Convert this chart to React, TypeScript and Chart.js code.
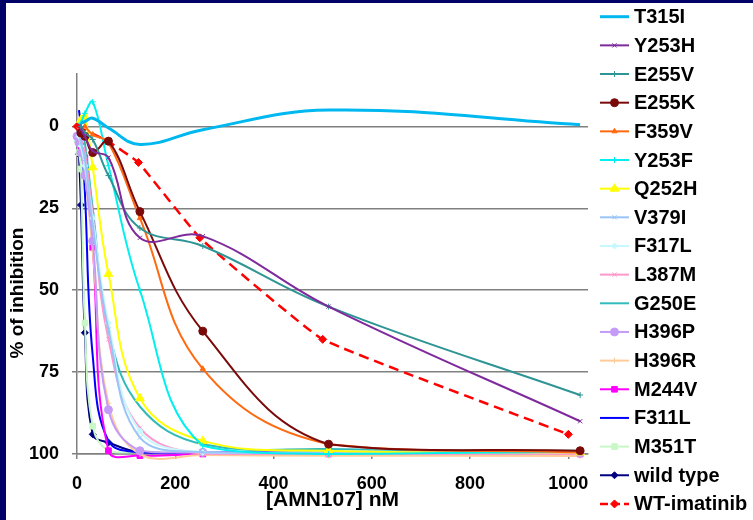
import React, { useEffect, useRef } from 'react';
import { Chart, registerables } from 'chart.js';
import { drawPoint } from 'chart.js/helpers';

Chart.register(...registerables);

const FONT = '"Liberation Sans", Arial, sans-serif';

// concentrations (nM)
const CONC = [0, 4, 8, 16, 32, 64, 128, 256, 512, 1024];
const IMATINIB_CONC = [0, 62.5, 125, 250, 500, 1000];

// % of inhibition per mutant
const T315I = [null, null, -1, -1.5, -2.5, 0.5, 5.5, 1, -5, -0.5];
const Y253H = [null, null, 1, 3, 7.5, 9.5, 34, 33.5, 55, 90];
const E255V = [null, null, 0, 2, 4, 15, 31, 36.5, 55, 82];
const E255K = [null, null, 2, 3, 8, 4.5, 26, 62.5, 97, 99];
const F359V = [null, null, null, 0, 2.5, 5, 28, 74, 97, 99.5];
const Y253F = [null, null, -1, -4, -7.5, 12, 50, 97.5, 100, 99.2];
const Q252H = [null, null, -2, -3, 12.5, 45, 83, 96, 99, 99.5];
const V379I = [null, 2, 5, 10, 30, 62, 95, 99.5, 99.5, 99.5];
const F317L = [null, 3, 6, 12, 28, 60, 93, 99.5, 99.5, 99.5];
const L387M = [null, 1, 4, 8, 27, 65, 92, 100, 100, 100];
const G250E = [null, null, 0, 5, 25, 62, 85.5, 97, 98.5, 99];
const H396P = [3, 5, 8, 15, 35, 86.5, 99, 99.5, 99.5, 99.8];
const H396R = [null, 2, 6, 14, 38, 84.5, 100, 100.3, 100.5, 100.6];
const M244V = [null, 3, 6, 9.6, 37, 99, 100.5, 100, 100, 100];
const F311L = [null, -5, 0, 20, 70, 96, 99.5, 99.5, 99.5, 99.5];
const M351T = [4, 8, 13, 60, 91.5, 99, 99.5, 99.5, 99.5, 99.5];
const WILD_TYPE = [null, 8.5, 24, 63, 94, 96.5, 99.5, 99.8, 99.8, 99.8];
const WT_IMATINIB = [0, 4.5, 11, 34, 65, 94];

const X_TICKS = [0, 200, 400, 600, 800, 1000];
const Y_TICKS = [0, 25, 50, 75, 100];
const X_TITLE = '[AMN107] nM';
const Y_TITLE = '% of inhibition';

type Style = { color: string; width?: number; point?: string | false; radius?: number; dash?: number[] };

const SERIES: [string, (number | null)[], Style][] = [
  ['T315I', T315I, { color: '#00B8F0', width: 3, point: false }],
  ['Y253H', Y253H, { color: '#7F2A9C', point: 'crossRot', radius: 3 }],
  ['E255V', E255V, { color: '#2E9494', point: 'cross', radius: 3 }],
  ['E255K', E255K, { color: '#7A0A0A', point: 'circle', radius: 4 }],
  ['F359V', F359V, { color: '#FF6A10', point: 'triangle', radius: 3 }],
  ['Y253F', Y253F, { color: '#00F0F0', point: 'cross', radius: 3 }],
  ['Q252H', Q252H, { color: '#FFFF00', point: 'triangle', radius: 5 }],
  ['V379I', V379I, { color: '#99C4F8', point: 'crossRot', radius: 3 }],
  ['F317L', F317L, { color: '#C8F8FF', point: 'rectRot', radius: 3 }],
  ['L387M', L387M, { color: '#FF99CC', point: 'crossRot', radius: 3 }],
  ['G250E', G250E, { color: '#33BBBB', point: false }],
  ['H396P', H396P, { color: '#C49CF8', point: 'circle', radius: 4 }],
  ['H396R', H396R, { color: '#FFCC99', point: 'cross', radius: 3 }],
  ['M244V', M244V, { color: '#FF00FF', point: 'rect', radius: 4 }],
  ['F311L', F311L, { color: '#0000FF', point: false }],
  ['M351T', M351T, { color: '#C8F8C8', point: 'rect', radius: 4 }],
  ['wild type', WILD_TYPE, { color: '#000080', point: 'rectRot', radius: 3.5 }],
  ['WT-imatinib', WT_IMATINIB, { color: '#FF0000', width: 2.5, point: 'rectRot', radius: 4, dash: [10, 6] }],
];

const legendPlugin = {
  id: 'sideLegend',
  afterDraw(chart: any) {
    const ctx = chart.ctx as CanvasRenderingContext2D;
    ctx.save();
    chart.data.datasets.forEach((ds: any, i: number) => {
      const y = 13.7 + 28.66 * i;
      ctx.strokeStyle = ds.borderColor;
      ctx.lineWidth = ds.borderWidth;
      ctx.setLineDash(ds.borderDash ? [8, 4] : []);
      ctx.beginPath();
      ctx.moveTo(594, y);
      ctx.lineTo(623, y);
      ctx.stroke();
      ctx.setLineDash([]);
      if (ds.pointRadius > 0) {
        ctx.fillStyle = ds.borderColor;
        ctx.strokeStyle = ds.borderColor;
        ctx.lineWidth = 1;
        drawPoint(ctx, { pointStyle: ds.pointStyle, radius: ds.pointRadius, rotation: 0, borderWidth: 1 } as any, 608.5, y);
      }
      ctx.fillStyle = '#000';
      ctx.font = `bold 20px ${FONT}`;
      ctx.textAlign = 'left';
      ctx.textBaseline = 'middle';
      ctx.fillText(ds.label, 628, y + 1);
    });
    ctx.translate(12, 290);
    ctx.rotate(-Math.PI / 2);
    ctx.fillStyle = '#000';
    ctx.font = `bold 19px ${FONT}`;
    ctx.textAlign = 'center';
    ctx.textBaseline = 'middle';
    ctx.fillText(Y_TITLE, 0, 0);
    ctx.restore();
  },
};

export default function App() {
  const ref = useRef<HTMLCanvasElement>(null);
  useEffect(() => {
    document.body.style.margin = '0';
    const datasets = SERIES.map(([label, vals, st]) => {
      const xs = label === 'WT-imatinib' ? IMATINIB_CONC : CONC;
      const data = vals
        .map((v, i) => (v === null ? null : { x: xs[i], y: v }))
        .filter((p) => p !== null);
      return {
        label,
        data,
        borderColor: st.color,
        backgroundColor: st.color,
        borderWidth: st.width ?? 2,
        borderDash: st.dash,
        pointStyle: st.point || 'circle',
        pointRadius: st.point ? st.radius ?? 3 : 0,
        pointBorderWidth: 1,
        tension: label === 'WT-imatinib' ? 0.1 : 0.4,
        clip: 8,
      };
    });
    const chart = new Chart(ref.current!, {
      type: 'line',
      data: { datasets: datasets as any },
      options: {
        animation: false,
        responsive: false,
        devicePixelRatio: 1,
        layout: { padding: { top: 71, right: 165, left: 0, bottom: 0 } },
        plugins: { legend: { display: false }, tooltip: { enabled: false } },
        scales: {
          x: {
            type: 'linear',
            min: 0,
            max: 1040,
            afterBuildTicks: (s: any) => {
              s.ticks = X_TICKS.map((v) => ({ value: v }));
            },
            afterFit: (s: any) => {
              s.height = 66;
            },
            grid: { drawOnChartArea: false, drawTicks: true, tickLength: 5, color: '#808080', lineWidth: 1.5 },
            border: { display: true, color: '#808080', width: 1.5 },
            ticks: {
              color: '#000',
              padding: 14,
              font: { family: FONT, size: 18, weight: 'bold' },
              maxRotation: 0,
              autoSkip: false,
              callback: (v: any) => String(v),
            },
            title: { display: true, text: X_TITLE, color: '#000', padding: { top: 0, bottom: 7 }, font: { family: FONT, size: 21, weight: 'bold' } },
          },
          y: {
            type: 'linear',
            reverse: true,
            min: -16,
            max: 100,
            afterBuildTicks: (s: any) => {
              s.ticks = Y_TICKS.map((v) => ({ value: v }));
            },
            afterFit: (s: any) => {
              s.width = 71;
            },
            grid: { drawOnChartArea: true, drawTicks: true, tickLength: 5, color: '#808080', lineWidth: 1.5 },
            border: { display: true, color: '#808080', width: 1.5 },
            ticks: {
              color: '#000',
              padding: 13,
              font: { family: FONT, size: 18, weight: 'bold' },
              autoSkip: false,
              callback: (v: any) => String(v),
            },
          },
        },
      },
      plugins: [legendPlugin],
    });
    return () => chart.destroy();
  }, []);
  return (
    <div style={{ position: 'relative', width: 753, height: 520, background: '#000066', overflow: 'hidden' }}>
      <div style={{ position: 'absolute', left: 6, top: 3, width: 747, height: 517, background: '#fff' }}>
        <canvas ref={ref} width={747} height={517} style={{ display: 'block' }} />
      </div>
    </div>
  );
}
